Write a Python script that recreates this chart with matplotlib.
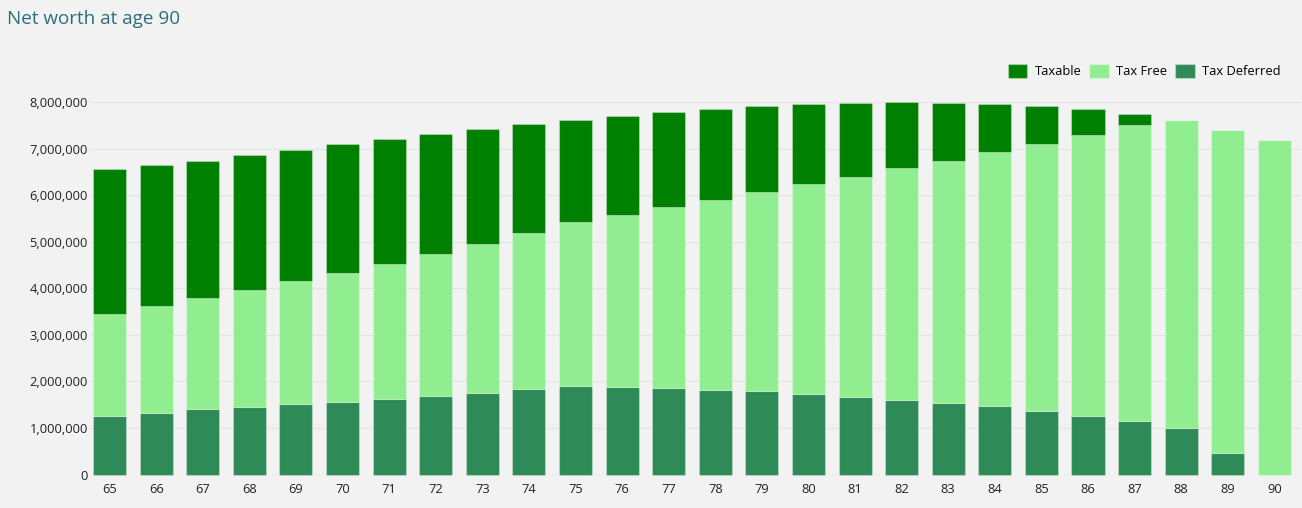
import matplotlib.pyplot as plt
from matplotlib.ticker import FuncFormatter
from matplotlib.patches import Patch
import numpy as np

plt.rcParams['font.family'] = ['Open Sans', 'DejaVu Sans']

ages = list(range(65, 91))

# values in dollars (bottom to top)
tax_deferred = [1.26, 1.33, 1.41, 1.44, 1.52, 1.55, 1.62, 1.69, 1.75, 1.83,
                1.91, 1.89, 1.86, 1.82, 1.79, 1.74, 1.67, 1.61, 1.54, 1.47,
                1.36, 1.26, 1.16, 1.00, 0.46, 0.0]
tax_free = [2.18, 2.28, 2.39, 2.52, 2.63, 2.78, 2.91, 3.05, 3.21, 3.36,
            3.52, 3.69, 3.89, 4.08, 4.28, 4.50, 4.72, 4.97, 5.20, 5.46,
            5.74, 6.04, 6.34, 6.615, 6.94, 7.19]
taxable = [3.12, 3.045, 2.935, 2.90, 2.83, 2.76, 2.68, 2.58, 2.46, 2.34,
           2.19, 2.13, 2.04, 1.95, 1.84, 1.71, 1.58, 1.42, 1.24, 1.03,
           0.81, 0.545, 0.24, 0.0, 0.0, 0.0]

tax_deferred = np.array(tax_deferred) * 1e6
tax_free = np.array(tax_free) * 1e6
taxable = np.array(taxable) * 1e6

bg = '#F2F2F2'
c_taxable = '#008000'
c_free = '#90EE90'
c_deferred = '#2E8B57'
edge = (1, 1, 1, 0.3)

fig = plt.figure(figsize=(13.02, 5.08), dpi=100, facecolor=bg)
ax = fig.add_axes([90 / 1302, 33.5 / 508, 1210 / 1302, 372.4 / 508])
ax.set_facecolor(bg)

x = np.arange(len(ages))
w = 0.71
ax.bar(x, tax_deferred, w, color=c_deferred, edgecolor=edge, linewidth=0.8, zorder=2, clip_on=False)
ax.bar(x, tax_free, w, bottom=tax_deferred, color=c_free, edgecolor=edge, linewidth=0.8,
       zorder=2, clip_on=False)
ax.bar(x, taxable, w, bottom=tax_deferred + tax_free, color=c_taxable, edgecolor=edge,
       linewidth=0.8, zorder=2, clip_on=False)

ax.set_xlim(-0.42, 25.55)
ax.set_ylim(0, 8e6)
ax.set_yticks(np.arange(0, 8e6 + 1, 1e6))
ax.yaxis.set_major_formatter(FuncFormatter(lambda v, p: f"{int(v):,}"))
ax.set_xticks(x)
ax.set_xticklabels([str(a) for a in ages])
ax.tick_params(axis='both', length=0, labelsize=9.3, colors='#222222')
ax.tick_params(axis='y', pad=1.5)
ax.tick_params(axis='x', pad=6)
ax.grid(axis='y', color='#E4E4E4', linewidth=0.9, zorder=0)
for s in ax.spines.values():
    s.set_visible(False)

fig.text(7 / 1302, 1 - 19 / 508, "Net worth at age 90", fontsize=13.6, color='#2B6F7E',
         ha='left', va='center')

handles = [Patch(facecolor=c_taxable, edgecolor=edge, label='Taxable'),
           Patch(facecolor=c_free, edgecolor=edge, label='Tax Free'),
           Patch(facecolor=c_deferred, edgecolor=edge, label='Tax Deferred')]
fig.legend(handles=handles, loc='center right', bbox_to_anchor=(1281 / 1302, 1 - 71 / 508),
           ncol=3, frameon=False, fontsize=9.3, handlelength=1.5, handleheight=1.25,
           handletextpad=0.6, columnspacing=0.6, borderaxespad=0, borderpad=0)

fig.savefig('out.png', dpi=100, facecolor=bg)
